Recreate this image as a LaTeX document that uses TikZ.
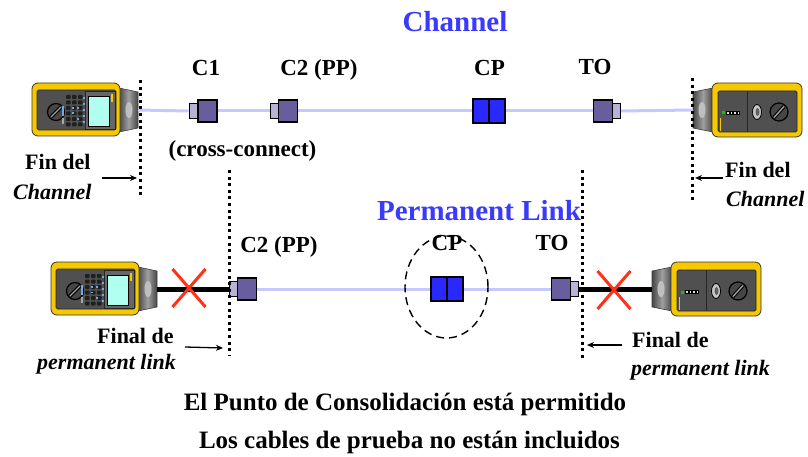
\documentclass[tikz,border=0pt]{standalone}
\usepackage{fontspec}
\setmainfont{Liberation Serif}
\usetikzlibrary{arrows.meta,shapes.geometric,shapes.misc}

\definecolor{linkblue}{RGB}{58,58,255}
\definecolor{cablelav}{RGB}{200,200,255}
\definecolor{plugpurple}{RGB}{104,94,158}
\definecolor{plugtipc}{RGB}{184,178,214}
\definecolor{cpblue}{RGB}{40,40,255}
\definecolor{unityellow}{RGB}{245,200,0}
\definecolor{panelgray}{RGB}{80,80,80}
\definecolor{screencyan}{RGB}{176,255,240}
\definecolor{crossred}{RGB}{255,50,25}
\definecolor{keyblue}{RGB}{110,170,230}

\tikzset{
  lbl/.style={font=\fontsize{23}{27}\selectfont\bfseries, inner sep=0pt, anchor=base},
  sidelbl/.style={font=\fontsize{22}{26}\selectfont\bfseries, inner sep=0pt, anchor=base west},
  sideital/.style={font=\fontsize{22}{26}\selectfont\bfseries\itshape, inner sep=0pt, anchor=base west},
  ttl/.style={font=\fontsize{29}{33}\selectfont\bfseries, text=linkblue, inner sep=0pt, anchor=base},
  note/.style={font=\fontsize{25}{29}\selectfont\bfseries, inner sep=0pt, anchor=base},
  cable/.style={line width=3pt, cablelav},
  testlead/.style={line width=5pt, black},
  boundary/.style={line width=3pt, dash pattern=on 3pt off 3.6pt},
  pointer/.style={line width=1.3pt, -{Stealth[length=7pt,width=6pt]}},
  plugbody/.style={rectangle, draw=black, line width=1.2pt, fill=plugpurple, inner sep=0pt,
    minimum width=19pt, minimum height=22pt},
  plugtip/.style={rectangle, draw=black, line width=1pt, fill=plugtipc, inner sep=0pt,
    minimum width=8pt, minimum height=15pt},
  cpbox/.style={rectangle, draw=black, line width=1.5pt, fill=cpblue, inner sep=0pt,
    minimum width=32pt, minimum height=24pt},
  xmark/.style={cross out, draw=crossred, line width=3pt, inner sep=0pt,
    minimum width=30pt, minimum height=35pt},
  ring/.style={ellipse, draw=black, line width=1.4pt, dash pattern=on 8pt off 5pt,
    inner sep=0pt, minimum width=83pt, minimum height=102pt},
  % grey connector head shared by both instruments
  unithead/.style={draw=black!75, line width=0.6pt, left color=gray!55!black, right color=gray!55!black, middle color=gray!75},
  unitbody/.style={fill=unityellow, draw=black!80, line width=0.8pt, rounded corners=6pt},
  unitpanel/.style={fill=panelgray, draw=black!85, line width=0.7pt, rounded corners=1.5pt},
  % main tester: port at the origin, body to the left
  mainunit/.pic={
    \draw[unithead] (-19,-22) -- (0,-18) -- (0,18) -- (-19,22) -- cycle;
    \fill[gray!50] (-9,0) ellipse [x radius=3.5, y radius=8];
    \draw[unitbody] (-106,-27) rectangle (-18,26);
    \draw[unitpanel] (-101,-20) rectangle (-22,20);
    \draw[black!85, line width=0.7pt, fill=black!60] (-53,-19) rectangle (-23,19);
    \draw[fill=screencyan, draw=black, line width=0.8pt] (-50,-14) rectangle (-29,16);
    \fill[unityellow] (-27,-16) rectangle (-25.5,-8);
    % selector dial
    \draw[fill=gray!55!black, draw=black, line width=1.2pt] (-82,2) circle (8.5);
    \draw[black, line width=3.6pt] (-87,7) -- (-77,-3);
    \draw[gray!75, line width=1.4pt] (-87,7) -- (-77,-3);
    % keypad
    \foreach \kx in {-72,-66,-60}
      \foreach \ky in {-15,-9.5,-4,1.5,7,12.5}
        \fill[black!88, rounded corners=0.8pt] (\kx,\ky) rectangle ++(4.5,4);
    \foreach \kx/\ky in {-66/-3,-61/-3,-66/2.5,-61/8,-55/-13,-55/-7,-55/-1,-55/5,-55/11}
      \fill[keyblue] (\kx,\ky) rectangle ++(1.8,1.8);
    \fill[keyblue] (-76,-4) rectangle (-74,6);
    \fill[gray!70] (-76,8) rectangle (-74,14);
    \coordinate (-port) at (0,0);
  },
  % remote unit: port at the origin, body to the right
  remoteunit/.pic={
    \draw[unithead] (0,-18) -- (20,-22) -- (20,22) -- (0,18) -- cycle;
    \fill[gray!50] (9,0) ellipse [x radius=3.5, y radius=8];
    \draw[unitbody] (19,-27) rectangle (109,27);
    \draw[unitpanel] (25,-19) rectangle (104,22);
    \draw[black!85, line width=0.7pt] (54,-19) -- (54,22);
    % link status lamps
    \fill[green!80!black] (29,1.5) rectangle (32,4.5);
    \foreach \lx in {33.5,37,40.5,44}
      \draw[black, line width=0.4pt, fill=gray!25] (\lx,1.5) rectangle ++(2.6,3);
    \draw[unityellow, line width=1.3pt] (27.5,8) -- (27.5,21);
    % knob and dial
    \draw[fill=gray!45, draw=black, line width=0.8pt] (64,2) ellipse [x radius=4.5, y radius=7.5];
    \fill[gray!75!black] (64.5,2) ellipse [x radius=2, y radius=4];
    \draw[fill=gray!55!black, draw=black, line width=1.2pt] (86,2) circle (9);
    \draw[black, line width=3.6pt] (81,7.5) -- (91,-3.5);
    \draw[gray!75, line width=1.4pt] (81,7.5) -- (91,-3.5);
    \coordinate (-port) at (0,0);
  },
}

\begin{document}
\begin{tikzpicture}[x=1pt,y=-1pt]
  \useasboundingbox[fill=white] (0,0) rectangle (808,457);

  % ---------------- Channel ----------------
  \node[ttl] (chtitle) at (455,32) {Channel};

  \pic (tA) at (138,110) {mainunit};
  \pic (rA) at (693,110) {remoteunit};

  \node[plugtip, minimum width=9pt] (c1t) at (193.5,111) {};
  \node[plugbody] (c1) at (207.5,111) {};
  \node[plugtip] (c2t) at (274.5,111) {};
  \node[plugbody] (c2) at (288,111) {};
  \node[cpbox] (cp) at (489,111) {};
  \draw[line width=1.5pt] (cp.north) -- (cp.south);
  \node[plugtip] (tot) at (616.5,111) {};
  \node[plugbody] (to) at (603,111) {};

  \draw[cable] (tA-port) -- (c1t.west);
  \draw[cable] (c1.east) -- (c2t.west);
  \draw[cable] (c2.east) -- (cp.west);
  \draw[cable] (cp.east) -- (to.west);
  \draw[cable] (tot.east) -- (rA-port);

  \node[lbl] (c1lbl) at (206,76) {C1};
  \node[lbl] (c2lbl) at (319,76) {C2 (PP)};
  \node[lbl] (cplbl) at (489.5,76) {CP};
  \node[lbl] (tolbl) at (595,75) {TO};
  \node[lbl] (xclbl) at (242.5,157) {(cross-connect)};

  \coordinate (bA1) at (140,80);  \coordinate (bA2) at (140,195);
  \coordinate (bB1) at (692,78);  \coordinate (bB2) at (692,200);
  \draw[boundary] (bA1) -- (bA2);
  \draw[boundary] (bB1) -- (bB2);

  \node[sidelbl] (finA) at (25,170) {Fin del};
  \node[sideital] (chA) at (13,200) {Channel};
  \coordinate (pA1) at (102,178); \coordinate (pA2) at (137,178);
  \draw[pointer] (pA1) -- (pA2);

  \node[sidelbl] (finB) at (725,178) {Fin del};
  \node[sideital] (chB) at (726,207) {Channel};
  \coordinate (pB1) at (723,178); \coordinate (pB2) at (695,178);
  \draw[pointer] (pB1) -- (pB2);

  % ---------------- Permanent Link ----------------
  \node[ttl] (pltitle) at (479,220) {Permanent Link};

  \pic (tB) at (157,289) {mainunit};
  \pic (rB) at (652,289) {remoteunit};

  \node[plugtip] (c2bt) at (233.5,289) {};
  \node[plugbody] (c2b) at (247,289) {};
  \node[cpbox] (cpb) at (447,289) {};
  \draw[line width=1.5pt] (cpb.north) -- (cpb.south);
  \node[plugtip] (tobt) at (574.5,289) {};
  \node[plugbody] (tob) at (561,289) {};

  \draw[testlead] (tB-port) -- (c2bt.west);
  \draw[cable] (c2b.east) -- (cpb.west);
  \draw[cable] (cpb.east) -- (tob.west);
  \draw[testlead] (tobt.east) -- (rB-port);

  \node[xmark] (xA) at (189,288) {};
  \node[xmark] (xB) at (614,290) {};

  \node[lbl] (c2blbl) at (279,252) {C2 (PP)};
  \node[lbl] (cpblbl) at (447,250) {CP};
  \node[lbl] (toblbl) at (552,250) {TO};
  \node[ring] (cpring) at (446.5,287) {};

  \coordinate (bC1) at (229,170); \coordinate (bC2) at (229,355);
  \coordinate (bD1) at (582,170); \coordinate (bD2) at (582,358);
  \draw[boundary] (bC1) -- (bC2);
  \draw[boundary] (bD1) -- (bD2);

  \node[sidelbl] (finC) at (97,343) {Final de};
  \node[sideital] (plC) at (37,369) {permanent link};
  \coordinate (pC1) at (185,347); \coordinate (pC2) at (223,348);
  \draw[pointer] (pC1) -- (pC2);

  \node[sidelbl] (finD) at (632,347) {Final de};
  \node[sideital] (plD) at (631,375) {permanent link};
  \coordinate (pD1) at (622,345); \coordinate (pD2) at (587,345);
  \draw[pointer] (pD1) -- (pD2);

  % ---------------- notes ----------------
  \node[note] (noteA) at (405,410) {El Punto de Consolidación está permitido};
  \node[note] (noteB) at (409.5,448) {Los cables de prueba no están incluidos};
\end{tikzpicture}
\end{document}
